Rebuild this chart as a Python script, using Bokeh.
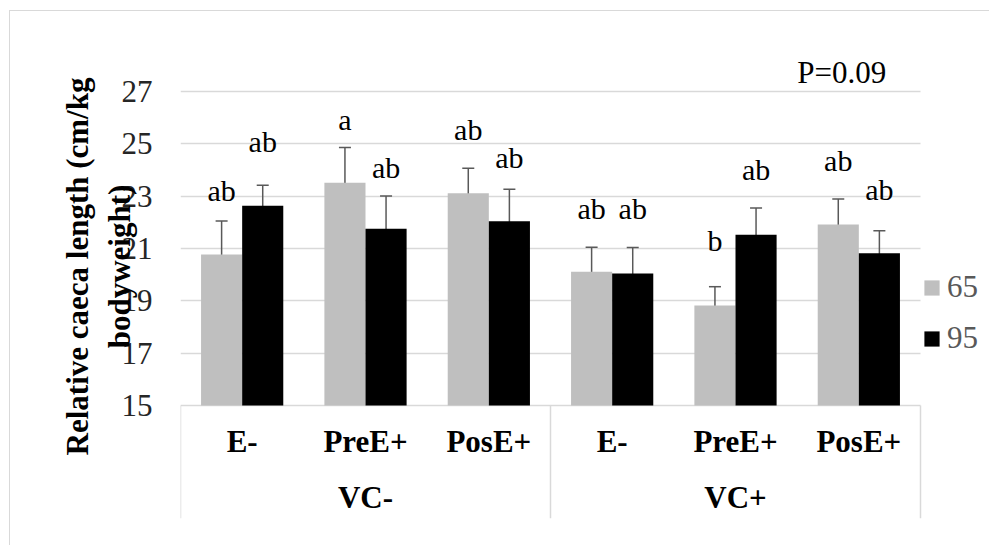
from bokeh.plotting import figure
from bokeh.models import (Range1d, ColumnDataSource, Whisker, TeeHead, Label, LinearAxis,
                          Legend, LegendItem, FixedTicker)
from bokeh.core.properties import value
from bokeh.embed import file_html
from bokeh.resources import INLINE

# ---------------- data ----------------
groups = ["VC-", "VC+"]
treatments = ["E-", "PreE+", "PosE+", "E-", "PreE+", "PosE+"]
series_names = ["65", "95"]
mean_65 = [20.77, 23.51, 23.11, 20.11, 18.82, 21.92]
err_65 = [1.28, 1.35, 0.96, 0.94, 0.72, 0.97]
mean_95 = [22.63, 21.75, 22.04, 20.04, 21.53, 20.82]
err_95 = [0.79, 1.26, 1.22, 1.00, 1.02, 0.86]
letters_65 = ["ab", "a", "ab", "ab", "b", "ab"]
letters_95 = ["ab", "ab", "ab", "ab", "ab", "ab"]
letter_y_65 = [23.23, 25.93, 25.55, 22.53, 21.32, 24.38]
letter_y_95 = [25.08, 24.09, 24.47, 22.53, 24.00, 23.27]
y_ticks = [15, 17, 19, 21, 23, 25, 27]
y_title = "Relative caeca length (cm/kg\nbodyweight)"
p_text = "P=0.09"

FONT = "Liberation Serif"
n = len(treatments)
per_group = n // len(groups)
centers = [i + 0.5 for i in range(n)]                      # category slots 0..n
group_centers = [g * per_group + per_group / 2 for g in range(len(groups))]
group_edges = [g * per_group for g in range(len(groups) + 1)]

src = ColumnDataSource(dict(
    x65=[c - 1 / 6 for c in centers], x95=[c + 1 / 6 for c in centers],
    m65=mean_65, m95=mean_95,
    u65=[m + e for m, e in zip(mean_65, err_65)],
    l65=[m - e for m, e in zip(mean_65, err_65)],
    u95=[m + e for m, e in zip(mean_95, err_95)],
    l95=[m - e for m, e in zip(mean_95, err_95)],
    t65=letters_65, t95=letters_95,
    y65=letter_y_65, y95=letter_y_95,
))

# plot area: categories fill 0..6, extra room right for the legend,
# below for the category box and above for the P-value note
X_HI = n + 0.5676
Y_LO, Y_HI = 10.682, 29.942

p = figure(
    x_range=Range1d(0, X_HI), y_range=Range1d(Y_LO, Y_HI),
    width=980, height=535, output_backend="svg", toolbar_location=None,
    min_border_left=170, min_border_right=0, min_border_top=3, min_border_bottom=28,
)
p.title = None
p.outline_line_color = None
p.background_fill_color = "white"
p.border_fill_color = "white"
p.styles = {"margin-left": "9px", "margin-top": "10px",
            "border-left": "1px solid #d9d9d9", "border-top": "1px solid #d9d9d9"}

r65 = p.vbar(x="x65", top="m65", bottom=y_ticks[0], width=1 / 3, source=src,
             fill_color="#bfbfbf", line_color=None)
r95 = p.vbar(x="x95", top="m95", bottom=y_ticks[0], width=1 / 3, source=src,
             fill_color="#000000", line_color=None)

for xs, up, lo in [("x65", "u65", "l65"), ("x95", "u95", "l95")]:
    w = Whisker(source=src, base=xs, upper=up, lower=lo, line_color="#595959", line_width=1.5,
                upper_head=TeeHead(size=12, line_color="#595959", line_width=1.5),
                lower_head=TeeHead(size=12, line_color="#595959", line_width=1.5))
    p.add_layout(w)

for xs, tcol, ycol in [("x65", "t65", "y65"), ("x95", "t95", "y95")]:
    p.text(x=xs, y=ycol, text=tcol, source=src, text_align="center", text_baseline="alphabetic",
           text_font=value(FONT), text_font_size="30px", text_color="black")

# ---------------- grid ----------------
p.xgrid.visible = False
grid = p.ygrid[0]
grid.ticker = FixedTicker(ticks=y_ticks)
grid.grid_line_color = "#d9d9d9"
grid.grid_line_width = 1.5
if "cross_bounds" in grid.properties():
    grid.cross_bounds = (0, n)
else:
    grid.visible = False
    p.segment(x0=0, x1=n, y0=y_ticks, y1=y_ticks, line_color="#d9d9d9", line_width=1.5)

# ---------------- y axis ----------------
ya = p.yaxis[0]
ya.ticker = FixedTicker(ticks=y_ticks)
ya.axis_line_color = None
ya.major_tick_line_color = None
ya.minor_tick_line_color = None
ya.major_tick_out = 0
ya.major_tick_in = 0
ya.major_label_standoff = 28
ya.major_label_text_font = FONT
ya.major_label_text_font_size = "31px"
ya.major_label_text_color = "#262626"
ya.axis_label = y_title
ya.axis_label_standoff = -18
ya.axis_label_text_font = FONT
ya.axis_label_text_font_size = "31px"
ya.axis_label_text_font_style = "bold"
ya.axis_label_text_color = "black"

# ---------------- category axes (drawn at the 15 baseline) ----------------
p.xaxis.visible = False


def overrides(ticks, labels):
    d = {}
    for t, lab in zip(ticks, labels):
        d[float(t)] = lab
        d[str(t)] = lab
    return d


ax1 = LinearAxis(fixed_location=y_ticks[0], bounds=(0, n),
                 ticker=FixedTicker(ticks=centers, minor_ticks=[]),
                 major_label_overrides=overrides(centers, treatments))
ax1.axis_line_color = None
ax1.major_tick_line_color = None
ax1.minor_tick_line_color = None
ax1.major_tick_out = 0
ax1.major_tick_in = 0
ax1.minor_tick_out = 0
ax1.minor_tick_in = 0
ax1.major_label_standoff = 18
ax1.major_label_text_font = FONT
ax1.major_label_text_font_size = "31px"
ax1.major_label_text_font_style = "bold"
ax1.major_label_text_color = "black"
p.add_layout(ax1, "below")

# group labels; its minor ticks draw the category-box rules
ax2 = LinearAxis(fixed_location=y_ticks[0], bounds=(0, n),
                 ticker=FixedTicker(ticks=group_centers, minor_ticks=group_edges),
                 major_label_overrides=overrides(group_centers, groups))
ax2.axis_line_color = None
ax2.major_tick_line_color = None
ax2.major_tick_out = 0
ax2.major_tick_in = 0
ax2.minor_tick_line_color = "#d9d9d9"
ax2.minor_tick_line_width = 1.5
ax2.minor_tick_in = 0
ax2.minor_tick_out = 113
ax2.major_label_standoff = -39
ax2.major_label_text_font = FONT
ax2.major_label_text_font_size = "31px"
ax2.major_label_text_font_style = "bold"
ax2.major_label_text_color = "black"
p.add_layout(ax2, "below")

# ---------------- P value note ----------------
p.add_layout(Label(x=5.0, y=27.74, text=p_text, text_align="left", text_baseline="alphabetic",
                   text_font=FONT, text_font_size="31px", text_color="black"))

# ---------------- legend ----------------
legend = Legend(items=[LegendItem(label=series_names[0], renderers=[r65]),
                       LegendItem(label=series_names[1], renderers=[r95])],
                location=(742, 162), orientation="vertical",
                glyph_width=19, glyph_height=19, label_height=19, label_standoff=6,
                spacing=15, padding=0, margin=0, border_line_color=None,
                background_fill_alpha=0, label_text_baseline="alphabetic",
                label_text_font=FONT, label_text_font_size="31px", label_text_color="#595959")
p.add_layout(legend, "center")

open("out.html", "w").write(file_html(p, INLINE))
